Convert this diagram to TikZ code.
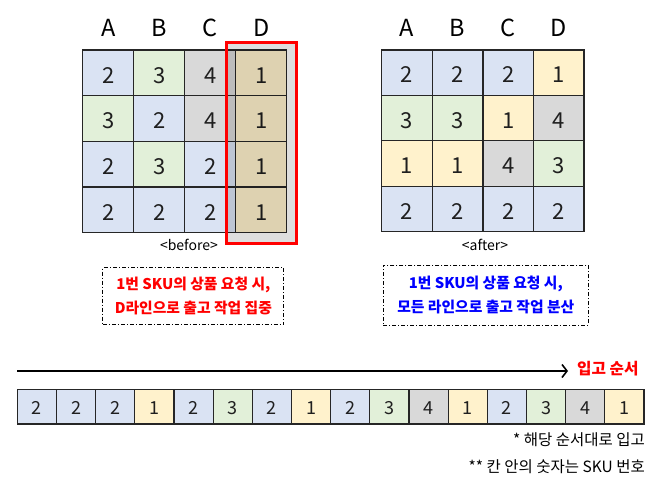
\documentclass[tikz,border=0pt]{standalone}
\usepackage{fontspec}
\setmainfont{Noto Sans CJK KR}
\usetikzlibrary{arrows.meta}
\definecolor{cB}{HTML}{DAE3F3}
\definecolor{cG}{HTML}{E2F0D9}
\definecolor{cY}{HTML}{FFF2CC}
\definecolor{cK}{HTML}{D9D9D9}
\definecolor{redT}{HTML}{FF0000}
\definecolor{blueT}{HTML}{0000FF}
\definecolor{edge}{HTML}{262626}
\tikzset{
  gcell/.style={draw=edge, line width=1.3pt, minimum width=51pt, minimum height=45.7pt, inner sep=0pt, font=\fontsize{22}{22}\selectfont, text=black!88, text height=20.5pt, text depth=0pt},
  scell/.style={draw=edge, line width=1.2pt, minimum width=39.17pt, minimum height=34.7pt, inner sep=0pt, font=\fontsize{18}{18}\selectfont, text=black!88, text height=16.5pt, text depth=0pt},
  hdr/.style={font=\fontsize{23.5}{23.5}\selectfont, inner sep=0pt},
  captxt/.style={font=\fontsize{14}{14}\selectfont, inner sep=0pt},
  notebox/.style={draw=black, line width=0.9pt, dash pattern=on 4pt off 2pt on 1pt off 2pt, minimum width=181pt, minimum height=57pt, inner sep=0pt},
  boxtxt/.style={font=\bfseries\fontsize{14.8}{23.3}\selectfont, align=center, inner sep=0pt},
  note/.style={font=\fontsize{15.5}{15.5}\selectfont, inner sep=0pt, anchor=east}
}
\begin{document}
\begin{tikzpicture}[x=1pt,y=-1pt]
\useasboundingbox (0,0) rectangle (661,490);
% ---- left grid (before)
\foreach \r/\row in {1/{2/cB,3/cG,4/cK,1/cY},2/{3/cG,2/cB,4/cK,1/cY},3/{2/cB,3/cG,2/cB,1/cY},4/{2/cB,2/cB,2/cB,1/cY}}{
  \foreach \v/\c [count=\k] in \row {
    \node[gcell, fill=\c] (L\r\k) at ({82.7+51*(\k-0.5)},{50+45.7*(\r-0.5)}) {\v};
  }
}
% ---- right grid (after)
\foreach \r/\row in {1/{2/cB,2/cB,2/cB,1/cY},2/{3/cG,3/cG,1/cY,4/cK},3/{1/cY,1/cY,4/cK,3/cG},4/{2/cB,2/cB,2/cB,2/cB}}{
  \foreach \v/\c [count=\k] in \row {
    \node[gcell, fill=\c, minimum width=50.6pt, minimum height=45.4pt] (R\r\k) at ({381.7+50.6*(\k-0.5)},{50+45.4*(\r-0.5)}) {\v};
  }
}
% headers
\foreach \h [count=\k] in {A,B,C,D}{
  \node[hdr] (LH\k) at ({82.7+51*(\k-0.5)},28) {\h};
  \node[hdr] (RH\k) at ({381.7+50.6*(\k-0.5)},28) {\h};
}
% highlight of column D
\fill[black, opacity=0.13] (226,42) rectangle (296,243);
\draw[redT, line width=3pt] (226,42) rectangle (296,243);
% captions
\node[captxt] (capB) at (189,245) {<before>};
\node[captxt] (capA) at (485,245) {<after>};
% text boxes
\node[notebox] (boxL) at (193.4,296) {};
\node[boxtxt, text=redT] (txtL) at (boxL.center) {1번 SKU의 상품 요청 시,\\D라인으로 출고 작업 집중};
\node[notebox, minimum width=205pt, minimum height=60pt] (boxR) at (485.8,295) {};
\node[boxtxt, text=blueT] (txtR) at (boxR.center) {1번 SKU의 상품 요청 시,\\모든 라인으로 출고 작업 분산};
% arrow
\coordinate (arrS) at (17,371);
\coordinate (arrE) at (568,371);
\draw[line width=2pt, -{Straight Barb[length=5pt,width=13pt,line width=1.6pt]}] (arrS) -- (arrE);
\node[font=\bfseries\fontsize{15.7}{15.7}\selectfont, text=redT, anchor=west, inner sep=0pt] (inlbl) at (577,369) {입고 순서};
% strip
\foreach \v/\c [count=\k] in {2/cB,2/cB,2/cB,1/cY,2/cB,3/cG,2/cB,1/cY,2/cB,3/cG,4/cK,1/cY,2/cB,3/cG,4/cK,1/cY}{
  \node[scell, fill=\c] (S\k) at ({17.3+39.17*(\k-0.5)},406.7) {\v};
}
% notes
\node[note] (n1) at (645,440) {* 해당 순서대로 입고};
\node[note] (n2) at (645,467) {** 칸 안의 숫자는 SKU 번호};
\end{tikzpicture}
\end{document}
